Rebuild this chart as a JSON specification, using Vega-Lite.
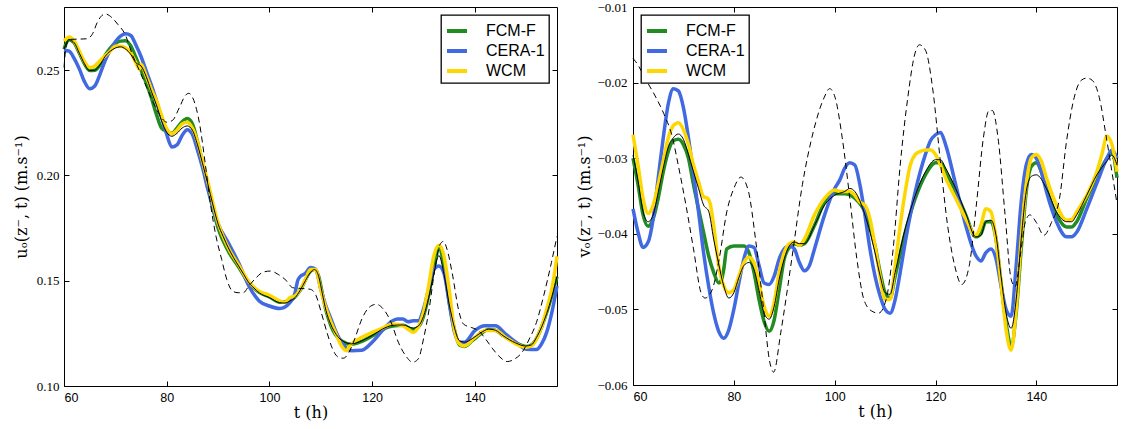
{
  "$schema": "https://vega.github.io/schema/vega-lite/v6.json",
  "padding": {"left": 12, "top": 0, "right": 0, "bottom": 0},
  "spacing": 10,
  "align": "none",
  "config": {
    "view": {"stroke": "black", "strokeWidth": 1},
    "axis": {"grid": false, "domain": false, "tickColor": "black", "tickSize": -5, "tickWidth": 1, "labelColor": "black", "titleColor": "black", "titleFontWeight": "normal"},
    "legend": {"symbolType": "stroke", "symbolStrokeWidth": 4, "symbolSize": 400, "rowPadding": -2, "labelFont": "Liberation Sans", "labelFontSize": 16, "labelColor": "black", "labelOffset": 17, "padding": 4, "strokeColor": "black", "strokeWidth": 1.3, "fillColor": "white", "cornerRadius": 0, "offset": 8}
  },
  "datasets": {
    "uF": [{"t":60,"v":0.26},{"t":61,"v":0.2645},{"t":62,"v":0.263},{"t":63,"v":0.258},{"t":64,"v":0.253},{"t":65,"v":0.2498},{"t":66,"v":0.25},{"t":67,"v":0.2525},{"t":68,"v":0.257},{"t":69,"v":0.2605},{"t":70,"v":0.2628},{"t":71,"v":0.2638},{"t":72,"v":0.264},{"t":73,"v":0.2615},{"t":74,"v":0.256},{"t":75,"v":0.25},{"t":76,"v":0.244},{"t":77,"v":0.237},{"t":78,"v":0.229},{"t":79,"v":0.2225},{"t":80,"v":0.221},{"t":81,"v":0.22},{"t":82,"v":0.2225},{"t":83,"v":0.2255},{"t":84,"v":0.227},{"t":85,"v":0.2245},{"t":86,"v":0.216},{"t":87,"v":0.206},{"t":88,"v":0.195},{"t":90,"v":0.175},{"t":92,"v":0.164},{"t":94,"v":0.1565},{"t":96,"v":0.149},{"t":98,"v":0.1445},{"t":100,"v":0.1423},{"t":102,"v":0.1398},{"t":104,"v":0.1405},{"t":106,"v":0.1455},{"t":108,"v":0.1545},{"t":108.8,"v":0.1555},{"t":109.6,"v":0.152},{"t":110.3,"v":0.144},{"t":111,"v":0.136},{"t":112,"v":0.1285},{"t":114,"v":0.1215},{"t":116,"v":0.1198},{"t":118,"v":0.1212},{"t":120,"v":0.1238},{"t":122,"v":0.1268},{"t":124,"v":0.1285},{"t":126,"v":0.1288},{"t":128,"v":0.1268},{"t":129,"v":0.128},{"t":130,"v":0.133},{"t":131,"v":0.143},{"t":132,"v":0.156},{"t":133,"v":0.1655},{"t":134,"v":0.157},{"t":135,"v":0.14},{"t":136,"v":0.127},{"t":137,"v":0.1195},{"t":138,"v":0.1188},{"t":139.5,"v":0.1215},{"t":141,"v":0.1245},{"t":142.7,"v":0.1268},{"t":144,"v":0.1265},{"t":145.5,"v":0.124},{"t":148,"v":0.1205},{"t":150,"v":0.1188},{"t":151,"v":0.1195},{"t":152,"v":0.1225},{"t":153,"v":0.128},{"t":154,"v":0.135},{"t":155,"v":0.143},{"t":156,"v":0.152}],
    "uC": [{"t":60,"v":0.2595},{"t":61,"v":0.259},{"t":62,"v":0.2555},{"t":63,"v":0.2505},{"t":64,"v":0.2445},{"t":65,"v":0.2412},{"t":66,"v":0.2425},{"t":67,"v":0.248},{"t":68,"v":0.2545},{"t":69,"v":0.2595},{"t":70,"v":0.2635},{"t":71,"v":0.2662},{"t":72,"v":0.2673},{"t":73,"v":0.2665},{"t":74,"v":0.262},{"t":75,"v":0.2565},{"t":76,"v":0.2497},{"t":77,"v":0.243},{"t":78,"v":0.2355},{"t":79,"v":0.2275},{"t":80,"v":0.2195},{"t":81,"v":0.2135},{"t":82,"v":0.2145},{"t":83,"v":0.219},{"t":84,"v":0.2217},{"t":85,"v":0.2195},{"t":86,"v":0.212},{"t":87,"v":0.2035},{"t":88,"v":0.1935},{"t":90,"v":0.177},{"t":92,"v":0.168},{"t":94,"v":0.1585},{"t":96,"v":0.1475},{"t":98,"v":0.1404},{"t":100,"v":0.138},{"t":102,"v":0.1368},{"t":104,"v":0.1396},{"t":105,"v":0.1443},{"t":105.5,"v":0.15},{"t":106,"v":0.152},{"t":107,"v":0.1535},{"t":108,"v":0.1563},{"t":109,"v":0.1555},{"t":110,"v":0.146},{"t":111,"v":0.138},{"t":112,"v":0.1318},{"t":113,"v":0.1255},{"t":114,"v":0.1208},{"t":115,"v":0.118},{"t":116,"v":0.1168},{"t":118,"v":0.117},{"t":120,"v":0.1208},{"t":122,"v":0.1263},{"t":124,"v":0.131},{"t":125,"v":0.1318},{"t":126,"v":0.1318},{"t":127,"v":0.1305},{"t":128,"v":0.131},{"t":129,"v":0.131},{"t":130,"v":0.1365},{"t":131,"v":0.1459},{"t":132,"v":0.1553},{"t":133,"v":0.157},{"t":134,"v":0.1535},{"t":135,"v":0.1396},{"t":136,"v":0.126},{"t":137,"v":0.1208},{"t":138,"v":0.1208},{"t":140,"v":0.1263},{"t":142,"v":0.1286},{"t":144,"v":0.1286},{"t":146,"v":0.1247},{"t":148,"v":0.1208},{"t":150,"v":0.1175},{"t":152,"v":0.1173},{"t":153,"v":0.12},{"t":154,"v":0.1256},{"t":155,"v":0.135},{"t":156,"v":0.1475}],
    "uW": [{"t":60,"v":0.2638},{"t":61,"v":0.2657},{"t":62,"v":0.2638},{"t":63,"v":0.259},{"t":64,"v":0.254},{"t":65,"v":0.2513},{"t":66,"v":0.252},{"t":67,"v":0.2545},{"t":68,"v":0.2568},{"t":69,"v":0.259},{"t":70,"v":0.2613},{"t":71,"v":0.2613},{"t":72,"v":0.2605},{"t":73,"v":0.2583},{"t":74,"v":0.2535},{"t":74.7,"v":0.2505},{"t":75,"v":0.2528},{"t":76,"v":0.2473},{"t":77,"v":0.241},{"t":78,"v":0.2355},{"t":79,"v":0.2285},{"t":80,"v":0.2222},{"t":81,"v":0.2198},{"t":82,"v":0.2215},{"t":83,"v":0.2245},{"t":84,"v":0.2253},{"t":85,"v":0.2225},{"t":86,"v":0.2159},{"t":87,"v":0.2065},{"t":88,"v":0.197},{"t":90,"v":0.1775},{"t":92,"v":0.1655},{"t":94,"v":0.1575},{"t":96,"v":0.1495},{"t":98,"v":0.145},{"t":100,"v":0.1431},{"t":102,"v":0.1404},{"t":103,"v":0.1398},{"t":104,"v":0.142},{"t":105,"v":0.1428},{"t":106,"v":0.1459},{"t":107,"v":0.1505},{"t":108,"v":0.1553},{"t":109,"v":0.1553},{"t":110,"v":0.1459},{"t":111,"v":0.137},{"t":112,"v":0.1302},{"t":113,"v":0.1245},{"t":114,"v":0.1192},{"t":115,"v":0.1168},{"t":115.5,"v":0.1185},{"t":116,"v":0.12},{"t":118,"v":0.1231},{"t":120,"v":0.1255},{"t":122,"v":0.1275},{"t":124,"v":0.1294},{"t":126,"v":0.1286},{"t":127,"v":0.127},{"t":128,"v":0.1255},{"t":129,"v":0.128},{"t":130,"v":0.1349},{"t":131,"v":0.1475},{"t":132,"v":0.1616},{"t":133,"v":0.1668},{"t":134,"v":0.1616},{"t":135,"v":0.1459},{"t":136,"v":0.127},{"t":137,"v":0.12},{"t":138,"v":0.119},{"t":140,"v":0.1231},{"t":142,"v":0.1263},{"t":144,"v":0.1263},{"t":146,"v":0.1231},{"t":148,"v":0.12},{"t":150,"v":0.1184},{"t":151,"v":0.119},{"t":152,"v":0.1223},{"t":153,"v":0.128},{"t":154,"v":0.1365},{"t":155,"v":0.146},{"t":156,"v":0.1616}],
    "uR": [{"t":60,"v":0.26},{"t":61,"v":0.2645},{"t":62,"v":0.263},{"t":63,"v":0.258},{"t":64,"v":0.253},{"t":65,"v":0.2498},{"t":66,"v":0.25},{"t":67,"v":0.2525},{"t":68,"v":0.2565},{"t":69,"v":0.259},{"t":70,"v":0.2605},{"t":71,"v":0.2611},{"t":72,"v":0.26},{"t":73,"v":0.2575},{"t":74,"v":0.2535},{"t":75,"v":0.252},{"t":76,"v":0.247},{"t":77,"v":0.24},{"t":78,"v":0.2335},{"t":79,"v":0.226},{"t":80,"v":0.2205},{"t":81,"v":0.2186},{"t":82,"v":0.22},{"t":83,"v":0.2225},{"t":84,"v":0.2235},{"t":85,"v":0.2215},{"t":86,"v":0.2145},{"t":87,"v":0.2055},{"t":88,"v":0.196},{"t":89,"v":0.186},{"t":90,"v":0.177},{"t":91,"v":0.171},{"t":92,"v":0.1656},{"t":93,"v":0.161},{"t":94,"v":0.157},{"t":95,"v":0.153},{"t":96,"v":0.149},{"t":97,"v":0.1465},{"t":98,"v":0.1443},{"t":100,"v":0.142},{"t":102,"v":0.1396},{"t":103,"v":0.1394},{"t":104,"v":0.1404},{"t":105,"v":0.142},{"t":106,"v":0.1455},{"t":107,"v":0.15},{"t":108,"v":0.154},{"t":108.8,"v":0.1553},{"t":109.6,"v":0.152},{"t":110.3,"v":0.144},{"t":111,"v":0.136},{"t":112,"v":0.129},{"t":113,"v":0.1245},{"t":114,"v":0.1218},{"t":116,"v":0.12},{"t":118,"v":0.1215},{"t":120,"v":0.124},{"t":122,"v":0.127},{"t":124,"v":0.1288},{"t":126,"v":0.129},{"t":128,"v":0.1275},{"t":129,"v":0.1285},{"t":130,"v":0.133},{"t":131,"v":0.142},{"t":132,"v":0.153},{"t":133,"v":0.162},{"t":134,"v":0.153},{"t":135,"v":0.139},{"t":136,"v":0.128},{"t":137,"v":0.1215},{"t":138,"v":0.1208},{"t":139.5,"v":0.1225},{"t":141,"v":0.125},{"t":142.7,"v":0.127},{"t":144,"v":0.1265},{"t":145.5,"v":0.1239},{"t":147.9,"v":0.1205},{"t":149.9,"v":0.119},{"t":151,"v":0.1195},{"t":152,"v":0.123},{"t":153,"v":0.128},{"t":154,"v":0.1345},{"t":155,"v":0.1425},{"t":156,"v":0.152}],
    "uD": [{"t":60,"v":0.2513},{"t":60.5,"v":0.2623},{"t":61.2,"v":0.2646},{"t":64.4,"v":0.2649},{"t":65.5,"v":0.267},{"t":66.6,"v":0.2733},{"t":68,"v":0.2767},{"t":69.4,"v":0.2748},{"t":70.5,"v":0.2717},{"t":71.9,"v":0.267},{"t":73.3,"v":0.2575},{"t":74.7,"v":0.2497},{"t":76.1,"v":0.2418},{"t":77.5,"v":0.234},{"t":78.9,"v":0.2277},{"t":80,"v":0.2253},{"t":81.1,"v":0.2261},{"t":82.5,"v":0.2324},{"t":83.6,"v":0.2379},{"t":84.3,"v":0.239},{"t":85.3,"v":0.2355},{"t":86.4,"v":0.2245},{"t":87.5,"v":0.2057},{"t":88.5,"v":0.1868},{"t":89.6,"v":0.1711},{"t":90.7,"v":0.1601},{"t":91.7,"v":0.1506},{"t":92.8,"v":0.1451},{"t":93.9,"v":0.1443},{"t":94.9,"v":0.1443},{"t":96,"v":0.1475},{"t":97.4,"v":0.1514},{"t":98.8,"v":0.1541},{"t":100.2,"v":0.1546},{"t":101.7,"v":0.153},{"t":103.4,"v":0.1498},{"t":104.5,"v":0.1467},{"t":108,"v":0.1459},{"t":109.1,"v":0.1428},{"t":110.1,"v":0.1349},{"t":111.2,"v":0.1255},{"t":112.3,"v":0.1176},{"t":113.4,"v":0.1137},{"t":114.4,"v":0.1132},{"t":115.5,"v":0.116},{"t":116.6,"v":0.1223},{"t":118,"v":0.1318},{"t":119.4,"v":0.1373},{"t":120.8,"v":0.1388},{"t":122.2,"v":0.1365},{"t":123.7,"v":0.1302},{"t":125.1,"v":0.1208},{"t":126.5,"v":0.1145},{"t":127.9,"v":0.1113},{"t":129,"v":0.1129},{"t":130,"v":0.1223},{"t":131.1,"v":0.1365},{"t":132.2,"v":0.1553},{"t":133.2,"v":0.1671},{"t":133.9,"v":0.1687},{"t":134.6,"v":0.1648},{"t":135.7,"v":0.1522},{"t":136.8,"v":0.1365},{"t":137.8,"v":0.1294},{"t":139.3,"v":0.1278},{"t":140.7,"v":0.1263},{"t":142.1,"v":0.1223},{"t":143.5,"v":0.1176},{"t":144.9,"v":0.1137},{"t":146.3,"v":0.1116},{"t":147.8,"v":0.1129},{"t":149.2,"v":0.116},{"t":150.6,"v":0.1223},{"t":152,"v":0.1302},{"t":153.4,"v":0.1428},{"t":154.9,"v":0.1585},{"t":156,"v":0.1711}],
    "vF": [{"t":60,"v":-0.03},{"t":61,"v":-0.0335},{"t":62,"v":-0.0375},{"t":63,"v":-0.039},{"t":64,"v":-0.038},{"t":65,"v":-0.0353},{"t":66,"v":-0.0318},{"t":67,"v":-0.0291},{"t":68,"v":-0.0277},{"t":69,"v":-0.0275},{"t":70,"v":-0.0282},{"t":71,"v":-0.03},{"t":72,"v":-0.0335},{"t":73,"v":-0.0367},{"t":74,"v":-0.0398},{"t":75,"v":-0.0429},{"t":76,"v":-0.0451},{"t":77,"v":-0.0465},{"t":77.5,"v":-0.0462},{"t":78,"v":-0.0447},{"t":78.6,"v":-0.042},{"t":80,"v":-0.0416},{"t":82,"v":-0.0416},{"t":83,"v":-0.0425},{"t":84,"v":-0.0451},{"t":85,"v":-0.0487},{"t":86,"v":-0.0516},{"t":87,"v":-0.0529},{"t":88,"v":-0.0514},{"t":89,"v":-0.0474},{"t":90,"v":-0.0433},{"t":91,"v":-0.0418},{"t":92,"v":-0.0413},{"t":93,"v":-0.0415},{"t":94,"v":-0.0413},{"t":96,"v":-0.0389},{"t":98,"v":-0.0358},{"t":100,"v":-0.0347},{"t":102,"v":-0.0347},{"t":104,"v":-0.0353},{"t":106,"v":-0.0371},{"t":108,"v":-0.0416},{"t":109,"v":-0.045},{"t":110,"v":-0.0478},{"t":111,"v":-0.0485},{"t":112,"v":-0.0456},{"t":114,"v":-0.0398},{"t":116,"v":-0.0353},{"t":118,"v":-0.0322},{"t":120,"v":-0.0306},{"t":121,"v":-0.0306},{"t":122,"v":-0.0318},{"t":124,"v":-0.0344},{"t":126,"v":-0.0375},{"t":128,"v":-0.0404},{"t":129,"v":-0.04},{"t":130,"v":-0.0384},{"t":131,"v":-0.0384},{"t":132,"v":-0.0407},{"t":133,"v":-0.0465},{"t":134,"v":-0.0518},{"t":135,"v":-0.0549},{"t":136,"v":-0.0505},{"t":137,"v":-0.042},{"t":138,"v":-0.0344},{"t":139,"v":-0.0311},{"t":140,"v":-0.0306},{"t":141,"v":-0.0318},{"t":142,"v":-0.034},{"t":144,"v":-0.0375},{"t":146,"v":-0.0391},{"t":147,"v":-0.0391},{"t":148,"v":-0.0384},{"t":150,"v":-0.0353},{"t":152,"v":-0.0326},{"t":154,"v":-0.03},{"t":155,"v":-0.0293},{"t":156,"v":-0.0326}],
    "vC": [{"t":60,"v":-0.0367},{"t":61,"v":-0.0398},{"t":62,"v":-0.0418},{"t":63,"v":-0.0411},{"t":64,"v":-0.038},{"t":65,"v":-0.0326},{"t":66,"v":-0.0273},{"t":67,"v":-0.0228},{"t":68,"v":-0.0208},{"t":69,"v":-0.0211},{"t":70,"v":-0.0233},{"t":71,"v":-0.0273},{"t":72,"v":-0.0322},{"t":73,"v":-0.0371},{"t":74,"v":-0.0425},{"t":75,"v":-0.0469},{"t":76,"v":-0.0505},{"t":77,"v":-0.0529},{"t":78,"v":-0.0538},{"t":79,"v":-0.0527},{"t":80,"v":-0.05},{"t":81,"v":-0.0465},{"t":82,"v":-0.0433},{"t":83,"v":-0.0416},{"t":84,"v":-0.0418},{"t":85,"v":-0.0442},{"t":86,"v":-0.0465},{"t":87,"v":-0.0467},{"t":88,"v":-0.0456},{"t":89,"v":-0.0433},{"t":90,"v":-0.042},{"t":91,"v":-0.0416},{"t":92,"v":-0.042},{"t":93,"v":-0.0438},{"t":94,"v":-0.0449},{"t":95,"v":-0.0442},{"t":96,"v":-0.042},{"t":98,"v":-0.0375},{"t":100,"v":-0.034},{"t":101,"v":-0.0329},{"t":102,"v":-0.0313},{"t":103,"v":-0.0306},{"t":104,"v":-0.0309},{"t":105,"v":-0.0335},{"t":106,"v":-0.0375},{"t":107,"v":-0.042},{"t":108,"v":-0.0456},{"t":109,"v":-0.0482},{"t":110,"v":-0.05},{"t":111,"v":-0.0505},{"t":112,"v":-0.0487},{"t":113,"v":-0.0451},{"t":114,"v":-0.0411},{"t":116,"v":-0.0344},{"t":118,"v":-0.0295},{"t":119,"v":-0.0277},{"t":120,"v":-0.0269},{"t":121,"v":-0.0266},{"t":122,"v":-0.0282},{"t":124,"v":-0.0335},{"t":126,"v":-0.0389},{"t":128,"v":-0.0429},{"t":129,"v":-0.0436},{"t":130,"v":-0.0425},{"t":131,"v":-0.042},{"t":132,"v":-0.0433},{"t":133,"v":-0.0469},{"t":134,"v":-0.05},{"t":135,"v":-0.0509},{"t":136,"v":-0.0442},{"t":137,"v":-0.0358},{"t":138,"v":-0.0309},{"t":139,"v":-0.0295},{"t":140,"v":-0.03},{"t":141,"v":-0.0318},{"t":142,"v":-0.0344},{"t":144,"v":-0.0384},{"t":146,"v":-0.0404},{"t":147,"v":-0.0404},{"t":148,"v":-0.0398},{"t":150,"v":-0.0367},{"t":152,"v":-0.0333},{"t":154,"v":-0.03},{"t":155,"v":-0.0289},{"t":156,"v":-0.03}],
    "vW": [{"t":60,"v":-0.0269},{"t":61,"v":-0.0309},{"t":62,"v":-0.0353},{"t":63,"v":-0.0373},{"t":64,"v":-0.0362},{"t":65,"v":-0.0335},{"t":66,"v":-0.0304},{"t":67,"v":-0.0273},{"t":68,"v":-0.0257},{"t":69,"v":-0.0253},{"t":70,"v":-0.0262},{"t":71,"v":-0.0282},{"t":72,"v":-0.0309},{"t":73,"v":-0.0331},{"t":74,"v":-0.0351},{"t":74.8,"v":-0.0353},{"t":75.3,"v":-0.036},{"t":76,"v":-0.0389},{"t":77,"v":-0.0442},{"t":78,"v":-0.0469},{"t":79,"v":-0.0478},{"t":80,"v":-0.0474},{"t":81,"v":-0.0456},{"t":82,"v":-0.0438},{"t":83,"v":-0.0431},{"t":84,"v":-0.0438},{"t":85,"v":-0.0465},{"t":86,"v":-0.0496},{"t":87,"v":-0.0509},{"t":88,"v":-0.0491},{"t":89,"v":-0.0451},{"t":90,"v":-0.0425},{"t":91,"v":-0.0413},{"t":92,"v":-0.0411},{"t":93,"v":-0.0415},{"t":94,"v":-0.0407},{"t":96,"v":-0.0375},{"t":98,"v":-0.0353},{"t":100,"v":-0.0342},{"t":101,"v":-0.0344},{"t":102,"v":-0.0344},{"t":103,"v":-0.0344},{"t":104,"v":-0.0349},{"t":105,"v":-0.0358},{"t":106,"v":-0.0362},{"t":107,"v":-0.038},{"t":108,"v":-0.0416},{"t":109,"v":-0.0456},{"t":110,"v":-0.0487},{"t":111,"v":-0.0487},{"t":112,"v":-0.0442},{"t":113,"v":-0.0389},{"t":114,"v":-0.0344},{"t":115,"v":-0.0309},{"t":116,"v":-0.0295},{"t":117,"v":-0.0291},{"t":118,"v":-0.0289},{"t":119,"v":-0.0289},{"t":120,"v":-0.0295},{"t":121,"v":-0.0309},{"t":122,"v":-0.0326},{"t":124,"v":-0.0353},{"t":126,"v":-0.038},{"t":128,"v":-0.0402},{"t":129,"v":-0.0389},{"t":130,"v":-0.0367},{"t":131,"v":-0.0371},{"t":132,"v":-0.0407},{"t":133,"v":-0.0465},{"t":134,"v":-0.0527},{"t":135,"v":-0.0554},{"t":136,"v":-0.05},{"t":137,"v":-0.0407},{"t":138,"v":-0.0335},{"t":139,"v":-0.03},{"t":140,"v":-0.0295},{"t":141,"v":-0.0304},{"t":142,"v":-0.0326},{"t":144,"v":-0.0362},{"t":146,"v":-0.0382},{"t":147,"v":-0.0381},{"t":148,"v":-0.0371},{"t":150,"v":-0.0349},{"t":152,"v":-0.0318},{"t":153,"v":-0.0295},{"t":154,"v":-0.0271},{"t":155,"v":-0.0282},{"t":156,"v":-0.0318}],
    "vR": [{"t":60,"v":-0.0296},{"t":61,"v":-0.033},{"t":62,"v":-0.0371},{"t":63,"v":-0.0384},{"t":64,"v":-0.0375},{"t":65,"v":-0.0345},{"t":66,"v":-0.0313},{"t":67,"v":-0.0285},{"t":68,"v":-0.0273},{"t":69,"v":-0.0268},{"t":70,"v":-0.0275},{"t":71,"v":-0.0295},{"t":72,"v":-0.0318},{"t":73,"v":-0.034},{"t":74,"v":-0.0362},{"t":75,"v":-0.037},{"t":76,"v":-0.0407},{"t":77,"v":-0.044},{"t":78,"v":-0.0469},{"t":79,"v":-0.0485},{"t":80,"v":-0.0478},{"t":81,"v":-0.0458},{"t":82,"v":-0.0442},{"t":83,"v":-0.0438},{"t":84,"v":-0.0447},{"t":85,"v":-0.0475},{"t":86,"v":-0.0505},{"t":87,"v":-0.0513},{"t":88,"v":-0.0496},{"t":89,"v":-0.046},{"t":90,"v":-0.0433},{"t":91,"v":-0.0416},{"t":92,"v":-0.0411},{"t":93,"v":-0.0413},{"t":94,"v":-0.0413},{"t":96,"v":-0.0389},{"t":98,"v":-0.0362},{"t":100,"v":-0.0349},{"t":102,"v":-0.0344},{"t":103,"v":-0.034},{"t":104,"v":-0.0344},{"t":106,"v":-0.0375},{"t":108,"v":-0.0425},{"t":109,"v":-0.0455},{"t":110,"v":-0.0478},{"t":111,"v":-0.048},{"t":112,"v":-0.0451},{"t":114,"v":-0.0393},{"t":116,"v":-0.0349},{"t":118,"v":-0.0318},{"t":120,"v":-0.0302},{"t":121,"v":-0.0302},{"t":122,"v":-0.0313},{"t":124,"v":-0.034},{"t":126,"v":-0.0373},{"t":128,"v":-0.0404},{"t":129,"v":-0.0402},{"t":130,"v":-0.0384},{"t":131,"v":-0.0382},{"t":132,"v":-0.0402},{"t":133,"v":-0.0456},{"t":134,"v":-0.0505},{"t":135,"v":-0.0525},{"t":136,"v":-0.0487},{"t":137,"v":-0.0407},{"t":138,"v":-0.0344},{"t":139,"v":-0.0324},{"t":140,"v":-0.0322},{"t":142,"v":-0.034},{"t":144,"v":-0.0371},{"t":146,"v":-0.0384},{"t":147,"v":-0.0384},{"t":148,"v":-0.0375},{"t":150,"v":-0.0349},{"t":152,"v":-0.0322},{"t":154,"v":-0.0304},{"t":155,"v":-0.0296},{"t":156,"v":-0.0309}],
    "vD": [{"t":60,"v":-0.0168},{"t":60.5,"v":-0.0172},{"t":62.8,"v":-0.0199},{"t":64.5,"v":-0.0219},{"t":66.1,"v":-0.0241},{"t":67.8,"v":-0.0272},{"t":69,"v":-0.031},{"t":70.5,"v":-0.0362},{"t":72,"v":-0.042},{"t":73.5,"v":-0.0478},{"t":74.3,"v":-0.0485},{"t":75.7,"v":-0.0474},{"t":77.1,"v":-0.0433},{"t":78.6,"v":-0.0371},{"t":80,"v":-0.034},{"t":81.4,"v":-0.0325},{"t":82.9,"v":-0.0344},{"t":84.3,"v":-0.0407},{"t":85.7,"v":-0.0487},{"t":87.2,"v":-0.0572},{"t":87.9,"v":-0.0583},{"t":89.3,"v":-0.0531},{"t":91.5,"v":-0.0433},{"t":93.6,"v":-0.0335},{"t":95.8,"v":-0.0264},{"t":97.9,"v":-0.022},{"t":99,"v":-0.0208},{"t":100.1,"v":-0.022},{"t":101.5,"v":-0.0273},{"t":103,"v":-0.0353},{"t":104.4,"v":-0.0433},{"t":105.8,"v":-0.0487},{"t":107.3,"v":-0.0502},{"t":108.7,"v":-0.0505},{"t":110.2,"v":-0.0487},{"t":111.6,"v":-0.042},{"t":113,"v":-0.0309},{"t":114.5,"v":-0.022},{"t":115.9,"v":-0.0162},{"t":116.8,"v":-0.015},{"t":118,"v":-0.0157},{"t":119.5,"v":-0.0211},{"t":120.9,"v":-0.03},{"t":122.4,"v":-0.0389},{"t":123.8,"v":-0.0442},{"t":125.2,"v":-0.0467},{"t":126.7,"v":-0.0442},{"t":128.1,"v":-0.0362},{"t":129.5,"v":-0.0273},{"t":130.6,"v":-0.0237},{"t":131.3,"v":-0.0237},{"t":132.4,"v":-0.0273},{"t":133.8,"v":-0.0375},{"t":135,"v":-0.046},{"t":135.8,"v":-0.047},{"t":136.8,"v":-0.043},{"t":137.8,"v":-0.0385},{"t":138.7,"v":-0.0375},{"t":140,"v":-0.0385},{"t":141.5,"v":-0.0402},{"t":143,"v":-0.0385},{"t":144.6,"v":-0.0353},{"t":146,"v":-0.0277},{"t":147.5,"v":-0.022},{"t":148.9,"v":-0.0197},{"t":150,"v":-0.0194},{"t":151.1,"v":-0.0197},{"t":152.5,"v":-0.022},{"t":153.9,"v":-0.0273},{"t":155.4,"v":-0.0335},{"t":156,"v":-0.036}]
  },
  "hconcat": [
    {
      "width": 493,
      "height": 379,
      "resolve": {"axis": {"x": "independent", "y": "independent"}},
      "layer": [
        {
          "data": {"name": "uF"},
          "mark": {"type": "line", "strokeWidth": 3.5, "interpolate": "monotone"},
          "encoding": {
            "x": {"field": "t", "type": "quantitative", "scale": {"domain": [60, 156], "nice": false, "zero": false},
                  "axis": {"orient": "bottom", "values": [60, 80, 100, 120, 140], "format": "d", "title": "t (h)", "labelFont": "Liberation Sans", "labelFontSize": 12.5, "labelPadding": 10, "titleFont": "DejaVu Serif", "titleFontSize": 16, "minExtent": 17, "maxExtent": 17, "titlePadding": 1}},
            "y": {"field": "v", "type": "quantitative", "scale": {"domain": [0.1, 0.28], "nice": false, "zero": false},
                  "axis": {"orient": "left", "values": [0.1, 0.15, 0.2, 0.25], "format": ".2f", "title": "uₒ(z⁻, t) (m.s⁻¹)", "labelFont": "Liberation Serif", "labelFontSize": 13, "labelPadding": 10, "minExtent": 28, "maxExtent": 28, "titlePadding": 7, "titleFont": "DejaVu Serif", "titleFontSize": 16}},
            "color": {"datum": "FCM-F", "scale": {"domain": ["FCM-F", "CERA-1", "WCM"], "range": ["#228B22", "#4169E1", "#FFD700"]}, "legend": {"orient": "top-right", "title": null}}
          }
        },
        {
          "data": {"name": "uC"},
          "mark": {"type": "line", "strokeWidth": 3.5, "interpolate": "monotone"},
          "encoding": {
            "x": {"field": "t", "type": "quantitative", "axis": null},
            "y": {"field": "v", "type": "quantitative", "axis": null},
            "color": {"datum": "CERA-1"}
          }
        },
        {
          "data": {"name": "uW"},
          "mark": {"type": "line", "strokeWidth": 3.5, "interpolate": "monotone"},
          "encoding": {
            "x": {"field": "t", "type": "quantitative", "axis": null},
            "y": {"field": "v", "type": "quantitative", "axis": null},
            "color": {"datum": "WCM"}
          }
        },
        {
          "data": {"name": "uR"},
          "mark": {"type": "line", "strokeWidth": 1, "color": "black", "interpolate": "monotone"},
          "encoding": {
            "x": {"field": "t", "type": "quantitative", "axis": null},
            "y": {"field": "v", "type": "quantitative", "axis": null}
          }
        },
        {
          "data": {"name": "uD"},
          "mark": {"type": "line", "strokeWidth": 1, "color": "black", "strokeDash": [6, 4], "interpolate": "monotone"},
          "encoding": {
            "x": {"field": "t", "type": "quantitative", "axis": {"orient": "top", "values": [60, 80, 100, 120, 140], "labels": false, "title": null, "minExtent": 0, "maxExtent": 0}},
            "y": {"field": "v", "type": "quantitative", "axis": {"orient": "right", "values": [0.1, 0.15, 0.2, 0.25], "labels": false, "title": null, "minExtent": 0, "maxExtent": 0}}
          }
        }
      ]
    },
    {
      "width": 484,
      "height": 378,
      "resolve": {"axis": {"x": "independent", "y": "independent"}},
      "layer": [
        {
          "data": {"name": "vF"},
          "mark": {"type": "line", "strokeWidth": 3.5, "interpolate": "monotone"},
          "encoding": {
            "x": {"field": "t", "type": "quantitative", "scale": {"domain": [60, 156], "nice": false, "zero": false},
                  "axis": {"orient": "bottom", "values": [60, 80, 100, 120, 140], "format": "d", "title": "t (h)", "labelFont": "Liberation Sans", "labelFontSize": 12.5, "labelPadding": 10, "titleFont": "DejaVu Serif", "titleFontSize": 16, "minExtent": 17, "maxExtent": 17, "titlePadding": 1}},
            "y": {"field": "v", "type": "quantitative", "scale": {"domain": [-0.06, -0.01], "nice": false, "zero": false},
                  "axis": {"orient": "left", "values": [-0.06, -0.05, -0.04, -0.03, -0.02, -0.01], "format": ".2f", "title": "vₒ(z⁻, t) (m.s⁻¹)", "labelFont": "Liberation Serif", "labelFontSize": 13, "labelPadding": 11, "minExtent": 35, "maxExtent": 35, "titlePadding": 6, "titleFont": "DejaVu Serif", "titleFontSize": 16}},
            "color": {"datum": "FCM-F", "scale": {"domain": ["FCM-F", "CERA-1", "WCM"], "range": ["#228B22", "#4169E1", "#FFD700"]}, "legend": {"orient": "top-left", "title": null}}
          }
        },
        {
          "data": {"name": "vC"},
          "mark": {"type": "line", "strokeWidth": 3.5, "interpolate": "monotone"},
          "encoding": {
            "x": {"field": "t", "type": "quantitative", "axis": null},
            "y": {"field": "v", "type": "quantitative", "axis": null},
            "color": {"datum": "CERA-1"}
          }
        },
        {
          "data": {"name": "vW"},
          "mark": {"type": "line", "strokeWidth": 3.5, "interpolate": "monotone"},
          "encoding": {
            "x": {"field": "t", "type": "quantitative", "axis": null},
            "y": {"field": "v", "type": "quantitative", "axis": null},
            "color": {"datum": "WCM"}
          }
        },
        {
          "data": {"name": "vR"},
          "mark": {"type": "line", "strokeWidth": 1, "color": "black", "interpolate": "monotone"},
          "encoding": {
            "x": {"field": "t", "type": "quantitative", "axis": null},
            "y": {"field": "v", "type": "quantitative", "axis": null}
          }
        },
        {
          "data": {"name": "vD"},
          "mark": {"type": "line", "strokeWidth": 1, "color": "black", "strokeDash": [6, 4], "interpolate": "monotone"},
          "encoding": {
            "x": {"field": "t", "type": "quantitative", "axis": {"orient": "top", "values": [60, 80, 100, 120, 140], "labels": false, "title": null, "minExtent": 0, "maxExtent": 0}},
            "y": {"field": "v", "type": "quantitative", "axis": {"orient": "right", "values": [-0.06, -0.05, -0.04, -0.03, -0.02, -0.01], "labels": false, "title": null, "minExtent": 0, "maxExtent": 0}}
          }
        }
      ]
    }
  ],
  "resolve": {"scale": {"color": "independent"}, "legend": {"color": "independent"}}
}
